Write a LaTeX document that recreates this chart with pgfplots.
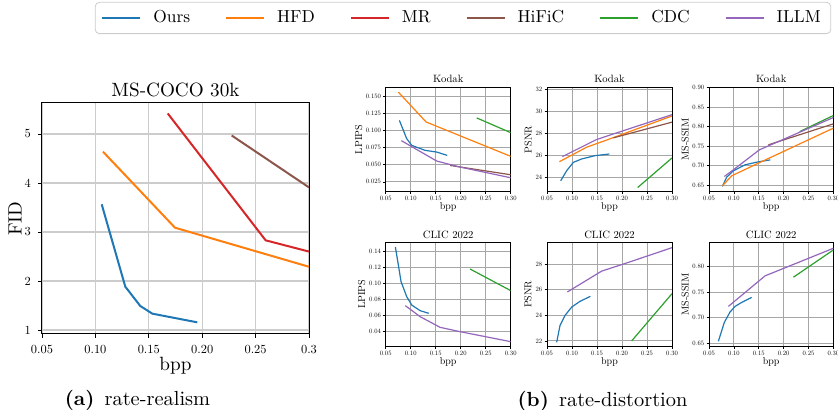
\documentclass[border=0pt]{standalone}
\usepackage{fontspec}
\setmainfont{lmroman10-regular}[Extension=.otf, BoldFont=lmroman10-bold]
\usepackage{pgfplots}
\pgfplotsset{compat=1.18}
\definecolor{cOurs}{HTML}{1F77B4}
\definecolor{cHFD}{HTML}{FF7F0E}
\definecolor{cMR}{HTML}{D62728}
\definecolor{cHiFiC}{HTML}{8C564B}
\definecolor{cCDC}{HTML}{2CA02C}
\definecolor{cILLM}{HTML}{9467BD}
\pgfplotsset{
 every axis title shift=0pt,
 base/.style={scale only axis, anchor=south west, axis line style={black, line width=0.5pt},
   grid=major, tick align=outside, xtick pos=left, ytick pos=left,
   /pgf/number format/assume math mode=true,
   xmin=0.05, xmax=0.3, xtick={0.05,0.1,0.15,0.2,0.25,0.3}, clip=true},
 small/.style={base, width=62.5pt, height=52pt,
   major grid style={black!35, line width=0.45pt},
   major tick length=1.2pt, tick style={black, line width=0.3pt},
   tick label style={font=\fontsize{3.3}{4}\selectfont, inner sep=1pt},
   label style={font=\fontsize{5}{6}\selectfont},
   title style={font=\fontsize{5.3}{6}\selectfont, at={(axis description cs:0.5,1.08)}, anchor=center},
   xlabel style={at={(axis description cs:0.5,-0.15)}, anchor=center},
   xticklabels={0.05,0.10,0.15,0.20,0.25,0.30},
   every axis plot/.append style={line width=0.6pt}, xlabel={bpp}},
}
\begin{document}
\begin{tikzpicture}
\path[use as bounding box] (0,0) rectangle (419pt,205pt);
% ---------------- left: rate-realism
\begin{axis}[base, at={(21pt,38pt)}, width=133.5pt, height=115.5pt,
  ymin=0.918, ymax=5.633, ytick={1,2,3,4,5}, yticklabels={1,2,3,4,5},
  xticklabels={0.05,0.10,0.15,0.20,0.25,0.3},
  major grid style={black!20, line width=0.6pt}, major tick length=2pt,
  tick style={black, line width=0.4pt},
  tick label style={font=\fontsize{6.2}{7}\selectfont},
  label style={font=\fontsize{9.6}{11}\selectfont},
  title style={font=\fontsize{9.6}{11}\selectfont, at={(axis description cs:0.5,1.056)}, anchor=center},
  title={MS-COCO 30k}, xlabel={bpp}, ylabel={FID},
  xlabel style={at={(axis description cs:0.5,-0.139)}, anchor=center},
  ylabel style={at={(axis description cs:-0.101,0.5)}, anchor=center},
  every axis plot/.append style={line width=1pt},
  legend columns=6,
  legend image code/.code={\draw[#1] (0pt,0pt) -- (19pt,0pt);},
  legend style={at={(axis description cs:1.5768,1.368)}, anchor=center,
    draw=black!20, rounded corners=2pt, font=\fontsize{8.7}{10}\selectfont,
    /tikz/every odd column/.append style={column sep=4pt},
    /tikz/every even column/.append style={column sep=15.5pt}},
]
\addplot[cOurs] coordinates {(0.1059,3.565)(0.128,1.884)(0.142,1.49)(0.1533,1.333)(0.1954,1.156)};
\addlegendentry{Ours}
\addplot[cHFD] coordinates {(0.1071,4.64)(0.1745,3.088)(0.30,2.29)};
\addlegendentry{HFD}
\addplot[cMR] coordinates {(0.1677,5.42)(0.2594,2.83)(0.30,2.60)};
\addlegendentry{MR}
\addplot[cHiFiC] coordinates {(0.2276,4.97)(0.30,3.91)};
\addlegendentry{HiFiC}
\addlegendimage{cCDC, line width=1pt}
\addlegendentry{CDC}
\addlegendimage{cILLM, line width=1pt}
\addlegendentry{ILLM}
\end{axis}
% ---------------- Kodak LPIPS
\begin{axis}[small, at={(192.85pt,109.25pt)}, ymin=0.0108, ymax=0.1632,
  ytick={0.025,0.05,0.075,0.1,0.125,0.15}, yticklabels={0.025,0.050,0.075,0.100,0.125,0.150},
  title={Kodak}, ylabel={LPIPS}, ylabel style={at={(axis description cs:-0.216,0.5)}, anchor=center}]
\addplot[cOurs] coordinates {(0.0773,0.115)(0.092,0.0882)(0.102,0.0784)(0.1287,0.0711)(0.152,0.0686)(0.173,0.0637)};
\addplot[cHFD] coordinates {(0.0753,0.1564)(0.1307,0.1127)(0.30,0.0623)};
\addplot[cHiFiC] coordinates {(0.1787,0.049)(0.30,0.0353)};
\addplot[cCDC] coordinates {(0.232,0.1186)(0.30,0.097)};
\addplot[cILLM] coordinates {(0.0813,0.0853)(0.152,0.0554)(0.1987,0.0466)(0.30,0.0309)};
\end{axis}
% ---------------- Kodak PSNR
\begin{axis}[small, at={(273.5pt,109.25pt)}, ymin=22.69, ymax=32.15,
  ytick={24,26,28,30,32}, yticklabels={24,26,28,30,32},
  title={Kodak}, ylabel={PSNR}, ylabel style={at={(axis description cs:-0.15,0.5)}, anchor=center}]
\addplot[cOurs] coordinates {(0.0773,23.66)(0.0893,24.58)(0.1027,25.34)(0.1193,25.65)(0.146,25.95)(0.1747,26.1)};
\addplot[cHFD] coordinates {(0.0747,25.40)(0.1293,26.72)(0.176,27.48)(0.30,29.56)};
\addplot[cHiFiC] coordinates {(0.1827,27.57)(0.30,29.0)};
\addplot[cCDC] coordinates {(0.2313,23.05)(0.30,25.74)};
\addplot[cILLM] coordinates {(0.0807,25.86)(0.1493,27.42)(0.30,29.68)};
\end{axis}
% ---------------- Kodak MS-SSIM
\begin{axis}[small, at={(354.5pt,109.25pt)}, width=62.2pt, ymin=0.6338, ymax=0.90,
  ytick={0.65,0.7,0.75,0.8,0.85,0.9}, yticklabels={0.65,0.70,0.75,0.80,0.85,0.90},
  title={Kodak}, ylabel={MS-SSIM}, ylabel style={at={(axis description cs:-0.192,0.5)}, anchor=center}]
\addplot[cOurs] coordinates {(0.0768,0.6466)(0.0855,0.6705)(0.0989,0.6867)(0.1224,0.702)(0.1458,0.7089)(0.1733,0.7148)};
\addplot[cHFD] coordinates {(0.0768,0.6483)(0.0956,0.6739)(0.1492,0.7063)(0.30,0.7959)};
\addplot[cHiFiC] coordinates {(0.1693,0.7532)(0.30,0.807)};
\addplot[cCDC] coordinates {(0.232,0.787)(0.30,0.8283)};
\addplot[cILLM] coordinates {(0.0808,0.6722)(0.0989,0.6892)(0.1512,0.7404)(0.30,0.8232)};
\end{axis}
% ---------------- CLIC LPIPS
\begin{axis}[small, at={(192.85pt,31.85pt)}, ymin=0.0217, ymax=0.1517,
  ytick={0.04,0.06,0.08,0.1,0.12,0.14}, yticklabels={0.04,0.06,0.08,0.10,0.12,0.14},
  title={CLIC 2022}, ylabel={LPIPS}, ylabel style={at={(axis description cs:-0.192,0.5)}, anchor=center},
  title style={at={(axis description cs:0.5,1.07)}}, xlabel style={at={(axis description cs:0.5,-0.148)}}]
\addplot[cOurs] coordinates {(0.0693,0.1458)(0.0753,0.1233)(0.0807,0.1025)(0.092,0.0838)(0.102,0.0733)(0.1187,0.0663)(0.136,0.0629)};
\addplot[cCDC] coordinates {(0.2187,0.1183)(0.30,0.0913)};
\addplot[cILLM] coordinates {(0.0893,0.0725)(0.1187,0.0588)(0.1587,0.0454)(0.1987,0.04)(0.30,0.0275)};
\end{axis}
% ---------------- CLIC PSNR
\begin{axis}[small, at={(273.5pt,31.85pt)}, ymin=21.58, ymax=29.70,
  ytick={22,24,26,28}, yticklabels={22,24,26,28},
  title={CLIC 2022}, ylabel={PSNR}, ylabel style={at={(axis description cs:-0.152,0.5)}, anchor=center},
  title style={at={(axis description cs:0.5,1.07)}}, xlabel style={at={(axis description cs:0.5,-0.148)}}]
\addplot[cOurs] coordinates {(0.0693,21.89)(0.076,23.2)(0.086,23.99)(0.0993,24.64)(0.116,25.09)(0.1367,25.48)};
\addplot[cCDC] coordinates {(0.2193,22.0)(0.30,25.69)};
\addplot[cILLM] coordinates {(0.0907,25.82)(0.1593,27.45)(0.2027,28.0)(0.30,29.28)};
\end{axis}
% ---------------- CLIC MS-SSIM
\begin{axis}[small, at={(354.5pt,31.85pt)}, width=62.2pt, ymin=0.6435, ymax=0.8476,
  ytick={0.65,0.7,0.75,0.8}, yticklabels={0.65,0.70,0.75,0.80},
  title={CLIC 2022}, ylabel={MS-SSIM}, ylabel style={at={(axis description cs:-0.192,0.5)}, anchor=center},
  title style={at={(axis description cs:0.5,1.07)}}, xlabel style={at={(axis description cs:0.5,-0.148)}}]
\addplot[cOurs] coordinates {(0.0688,0.6533)(0.0808,0.6905)(0.0922,0.7107)(0.1023,0.7218)(0.1157,0.7296)(0.1358,0.7394)};
\addplot[cCDC] coordinates {(0.2196,0.7791)(0.30,0.8326)};
\addplot[cILLM] coordinates {(0.0889,0.7218)(0.1626,0.7817)(0.30,0.8359)};
\end{axis}
% captions
\node[anchor=center, font=\fontsize{10.2}{12}\selectfont] at (68.75pt,5pt) {\textbf{(a)}\hspace{0.5em}rate-realism};
\node[anchor=center, font=\fontsize{10.2}{12}\selectfont] at (301.25pt,4.5pt) {\textbf{(b)}\hspace{0.5em}rate-distortion};
\end{tikzpicture}
\end{document}
